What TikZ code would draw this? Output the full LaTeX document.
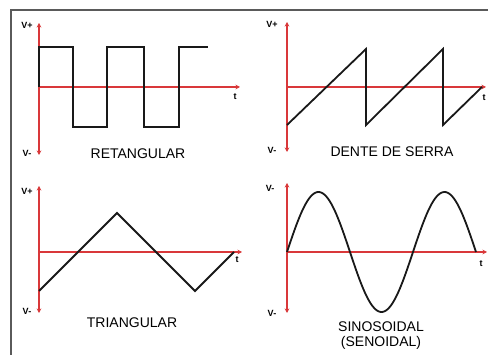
\documentclass[tikz,border=0pt]{standalone}
\usepackage{fontspec}
\setmainfont{Liberation Sans}
\usetikzlibrary{arrows.meta}
\definecolor{axisred}{HTML}{D9383A}
\definecolor{frame}{HTML}{5A5A5A}

\begin{document}
\begin{tikzpicture}[
    x=1pt,y=-1pt,
    axis/.style={draw=axisred,line width=1.6pt},
    axarr/.style={axis,-{Stealth[length=4.5pt,width=4.5pt]}},
    axboth/.style={axis,{Stealth[length=4.5pt,width=4.5pt]}-{Stealth[length=4.5pt,width=4.5pt]}},
    wave/.style={draw=black!90,line width=1.8pt,line join=miter},
    vlab/.style={font=\bfseries\fontsize{9}{9}\selectfont,inner sep=0pt},
    tlab/.style={font=\bfseries\fontsize{9}{9}\selectfont,inner sep=0pt},
    title/.style={font=\fontsize{14}{15}\selectfont,align=center,inner sep=0pt}
]
\useasboundingbox[fill=white] (0,0) rectangle (488,355);
% frame
\draw[frame,line width=1.5pt] (11,355) -- (11,10) -- (488,10);

% panel 1: retangular
\coordinate (r top) at (39,23);
\coordinate (r bot) at (39,155);
\coordinate (r org) at (39,87);
\coordinate (r end) at (240,87);
\draw[axboth] (r bot) -- (r top);
\draw[axarr] (r org) -- (r end);
\draw[wave] (39,87) -- (39,47) -- (73,47) -- (73,127) -- (107,127) -- (107,47)
    -- (144,47) -- (144,127) -- (179,127) -- (179,47) -- (208,47);
\node[vlab] (r vp) at (27,25) {V+};
\node[vlab] (r vm) at (27,153) {V-};
\node[tlab] (r t) at (235,97) {t};
\node[title] (r name) at (138,154) {RETANGULAR};

% panel 2: dente de serra
\coordinate (s top) at (287,22);
\coordinate (s bot) at (287,152);
\coordinate (s org) at (287,87);
\coordinate (s end) at (486,87);
\draw[axboth] (s bot) -- (s top);
\draw[axarr] (s org) -- (s end);
\draw[wave] (287,125) -- (366,49) -- (366,125) -- (443,49) -- (443,125) -- (482,87);
\node[vlab] (s vp) at (272,24) {V+};
\node[vlab] (s vm) at (272,150) {V-};
\node[tlab] (s t) at (484,98) {t};
\node[title] (s name) at (392,152) {DENTE DE SERRA};

% panel 3: triangular
\coordinate (g top) at (39,186);
\coordinate (g bot) at (39,313);
\coordinate (g org) at (39,252);
\coordinate (g end) at (242,252);
\draw[axboth] (g bot) -- (g top);
\draw[axarr] (g org) -- (g end);
\draw[wave] (39,291) -- (117,213) -- (195,291) -- (234,252);
\node[vlab] (g vp) at (27,191) {V+};
\node[vlab] (g vm) at (27,311) {V-};
\node[tlab] (g t) at (237,260) {t};
\node[title] (g name) at (132,323) {TRIANGULAR};

% panel 4: sinosoidal
\coordinate (n top) at (287,183);
\coordinate (n bot) at (287,313);
\coordinate (n org) at (287,252);
\coordinate (n end) at (487,252);
\draw[axboth] (n bot) -- (n top);
\draw[axarr] (n org) -- (n end);
\draw[wave] plot[domain=0:189,samples=120,smooth] ({287+\x},{252-60*sin(\x*2.857143)});
\node[vlab] (n vp) at (270,188) {V-};
\node[vlab] (n vm) at (272,313) {V-};
\node[tlab] (n t) at (481,264) {t};
\node[title] (n name) at (381,336) {SINOSOIDAL\\(SENOIDAL)};
\end{tikzpicture}
\end{document}
